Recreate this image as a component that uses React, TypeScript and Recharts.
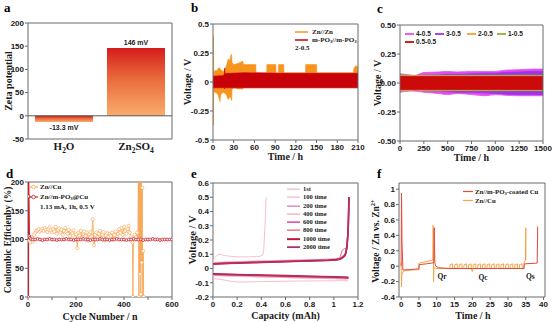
import React from 'react';
import {
  BarChart, Bar, ComposedChart, Area, Line, XAxis, YAxis, ReferenceArea, ReferenceLine,
  ReferenceDot, LabelList, Legend,
} from 'recharts';

const SERIF = '"Liberation Serif", "Times New Roman", serif';
const SANS = '"Liberation Sans", Arial, sans-serif';
const FRAME = '#6b6b6b';
const INK = '#1a1a1a';

// ---------- a: zeta potential ----------
const zetaCategories = ['H_2O', 'Zn_2SO_4'];
const zetaValues = [-13.3, 146];
const zetaLabels = ['-13.3 mV', '146 mV'];
const zetaTicks = [-50, 0, 50, 100, 150, 200];

// ---------- b: symmetric cells (envelopes of the voltage oscillation) ----------
const bSeriesNames = ['Zn//Zn', 'm-PO_3//m-PO_3'];
const bZnTime = [0, 0.4, 0.6, 0.9, 1.3, 3, 6, 8, 10, 11, 12, 15, 18, 20, 22, 24, 25.5, 27, 27.6, 28.5, 30, 36, 40, 43, 44, 62, 62.3, 77.8, 78, 91, 91.3, 94.7, 95, 102.5, 102.8, 134, 134.3, 150, 150.3, 203.5, 204, 207, 210];
const bZnHigh = [0.05, 0.1, 0.4, 0.1, 0.08, 0.1, 0.1, 0.12, 0.12, 0.11, 0.1, 0.09, 0.12, 0.15, 0.2, 0.18, 0.22, 0.24, 0.17, 0.16, 0.15, 0.16, 0.17, 0.18, 0.15, 0.15, 0.08, 0.08, 0.15, 0.15, 0.08, 0.08, 0.15, 0.15, 0.08, 0.08, 0.15, 0.15, 0.08, 0.08, 0.12, 0.14, 0.13];
const bZnLow = [-0.05, -0.1, -0.37, -0.1, -0.08, -0.09, -0.1, -0.12, -0.17, -0.12, -0.1, -0.09, -0.1, -0.12, -0.15, -0.13, -0.13, -0.16, -0.06, -0.06, -0.05, -0.06, -0.06, -0.06, -0.05, -0.05, -0.05, -0.05, -0.05, -0.05, -0.05, -0.05, -0.05, -0.05, -0.05, -0.05, -0.05, -0.05, -0.05, -0.05, -0.05, -0.05, -0.05];
const bPoTime = [0, 15, 16.5, 17, 17.5, 20, 25, 45, 100, 150, 210];
const bPoHigh = [0.05, 0.055, 0.07, 0.12, 0.07, 0.075, 0.075, 0.08, 0.075, 0.075, 0.075];
const bPoLow = [-0.05, -0.05, -0.05, -0.06, -0.05, -0.05, -0.05, -0.05, -0.05, -0.05, -0.05];
const bXTicks = [0, 30, 60, 90, 120, 150, 180, 210];
const bYTicks = [-0.5, -0.25, 0, 0.25, 0.5];

// ---------- c: different current densities (envelopes) ----------
const cNames = ['4-0.5', '3-0.5', '2-0.5', '1-0.5', '0.5-0.5'];
const cTime = [0, 100, 150, 250, 400, 500, 600, 750, 900, 1000, 1100, 1250, 1400, 1500];
const c4High = [0.08, 0.07, 0.065, 0.09, 0.095, 0.1, 0.095, 0.1, 0.1, 0.1, 0.11, 0.115, 0.12, 0.12];
const c4Low = [-0.08, -0.07, -0.07, -0.08, -0.09, -0.1, -0.09, -0.1, -0.11, -0.1, -0.105, -0.11, -0.11, -0.11];
const c3High = [0.065, 0.06, 0.06, 0.065, 0.07, 0.075, 0.075, 0.08, 0.085, 0.085, 0.09, 0.095, 0.1, 0.1];
const c3Low = [-0.065, -0.06, -0.06, -0.065, -0.07, -0.075, -0.08, -0.08, -0.085, -0.09, -0.095, -0.1, -0.1, -0.1];
const c2High = [0.068, 0.066, 0.065, 0.066, 0.067, 0.066, 0.066, 0.066, 0.066, 0.066, 0.066, 0.066, 0.066, 0.066];
const c2Low = [-0.068, -0.066, -0.06, -0.066, -0.067, -0.066, -0.066, -0.066, -0.066, -0.066, -0.066, -0.066, -0.066, -0.066];
const c1High = [0.064, 0.062, 0.06, 0.062, 0.063, 0.062, 0.062, 0.062, 0.062, 0.062, 0.062, 0.062, 0.062, 0.062];
const c1Low = [-0.064, -0.06, -0.05, -0.062, -0.063, -0.062, -0.062, -0.062, -0.062, -0.062, -0.062, -0.062, -0.062, -0.062];
const c05High = [0.055, 0.055, 0.055, 0.055, 0.055, 0.055, 0.055, 0.055, 0.055, 0.055, 0.055, 0.055, 0.055, 0.055];
const c05Low = [-0.055, -0.055, -0.055, -0.055, -0.055, -0.055, -0.055, -0.055, -0.055, -0.055, -0.055, -0.055, -0.055, -0.055];
const cXTicks = [0, 250, 500, 750, 1000, 1250, 1500];
const cYTicks = [-0.5, -0.25, 0, 0.25, 0.5];

// ---------- d: coulombic efficiency ----------
const dNames = ['Zn//Cu', 'Zn//m-PO_3@Cu'];
const dNote = '1.13 mA, 1h, 0.5 V';
const dCycleZnCu = [5, 10, 15, 20, 25, 30, 35, 40, 45, 50, 55, 60, 65, 70, 75, 80, 85, 90, 95, 100, 105, 110, 115, 120, 125, 130, 135, 140, 145, 150, 155, 160, 165, 170, 175, 180, 185, 190, 195, 200, 205, 210, 215, 220, 225, 230, 235, 240, 245, 250, 255, 260, 265, 270, 275, 280, 285, 290, 295, 300, 305, 310, 315, 320, 325, 330, 335, 340, 345, 350, 355, 360, 365, 370, 375, 380, 385, 390, 395, 400, 405, 410, 415, 420, 425, 430, 435, 437, 440, 445, 450, 455, 458, 460, 462, 464, 466, 468, 470, 472, 474, 476, 478, 480, 482];
const dCeZnCu = [98, 95, 104, 96, 108, 112, 115, 116, 118, 114, 117, 119, 115, 120, 117, 113, 118, 121, 116, 112, 118, 114, 122, 110, 116, 119, 112, 117, 108, 115, 120, 113, 110, 117, 106, 114, 111, 116, 104, 109, 85, 112, 107, 115, 103, 110, 114, 106, 112, 98, 109, 113, 105, 135, 90, 108, 112, 104, 110, 115, 102, 109, 113, 98, 107, 111, 104, 110, 106, 112, 100, 108, 114, 105, 110, 118, 112, 120, 108, 122, 115, 110, 118, 124, 112, 105, 95, 0, 100, 108, 104, 112, 100, 230, 0, 230, 40, 210, 5, 230, 60, 190, 0, 80, 0];
const dCycleMPO = [1, 2, 3, 5, 8, 12, 20, 30, 40, 50, 60, 70, 80, 90, 100, 110, 120, 130, 140, 150, 160, 170, 180, 190, 200, 210, 220, 230, 240, 250, 260, 270, 280, 290, 300, 310, 320, 330, 340, 350, 360, 370, 380, 390, 400, 410, 420, 430, 440, 450, 460, 470, 480, 490, 500, 510, 520, 530, 540, 550, 560, 570, 580, 590, 600];
const dCeMPO = [0, 210, 175, 106, 103, 101, 100, 100, 101, 100, 99, 100, 100, 101, 100, 100, 99, 100, 100, 100, 101, 100, 100, 99, 100, 100, 100, 101, 100, 100, 99, 100, 100, 100, 101, 100, 100, 100, 99, 100, 100, 101, 100, 100, 100, 99, 100, 100, 101, 100, 100, 100, 99, 100, 100, 100, 101, 100, 100, 99, 100, 100, 100, 100, 100];
const dXTicks = [0, 100, 200, 300, 400, 500, 600];
const dYTicks = [0, 50, 100, 150, 200];

// ---------- e: voltage profiles ----------
const eNames = ['1st', '100 time', '200 time', '400 time', '600 time', '800 time', '1000 time', '2000 time'];
const eCap1stCharge = [0, 0.01, 0.03, 0.05, 0.07, 0.1, 0.15, 0.2, 0.3, 0.36, 0.39, 0.41, 0.42, 0.43, 0.44];
const eV1stCharge = [0.045, 0.07, 0.09, 0.1, 0.098, 0.09, 0.085, 0.082, 0.082, 0.083, 0.086, 0.095, 0.13, 0.3, 0.5];
const eCap1stDis = [0, 0.05, 0.1, 0.15, 0.2, 0.4, 0.7, 1.0, 1.12];
const eV1stDis = [-0.07, -0.075, -0.082, -0.09, -0.095, -0.092, -0.088, -0.086, -0.085];
const eCapCharge = [0, 0.1, 0.2, 0.4, 0.6, 0.8, 0.95, 1.02, 1.05, 1.07, 1.09, 1.1, 1.11, 1.12, 1.125];
const eV100Charge = [0.04, 0.044, 0.047, 0.052, 0.056, 0.06, 0.064, 0.068, 0.072, 0.085, 0.1, 0.12, 0.17, 0.32, 0.5];
const eV200Charge = [0.035, 0.039, 0.042, 0.047, 0.052, 0.057, 0.061, 0.065, 0.069, 0.078, 0.093, 0.113, 0.163, 0.303, 0.5];
const eV400Charge = [0.042, 0.046, 0.049, 0.054, 0.058, 0.062, 0.066, 0.07, 0.074, 0.087, 0.102, 0.122, 0.172, 0.32, 0.5];
const eV600Charge = [0.034, 0.038, 0.041, 0.046, 0.051, 0.056, 0.06, 0.064, 0.068, 0.078, 0.093, 0.112, 0.162, 0.302, 0.5];
const eV800Charge = [0.036, 0.04, 0.043, 0.048, 0.053, 0.058, 0.062, 0.066, 0.075, 0.13, 0.14, 0.14, 0.17, 0.31, 0.5];
const eV1000Charge = [0.032, 0.036, 0.039, 0.044, 0.049, 0.054, 0.058, 0.062, 0.066, 0.075, 0.09, 0.11, 0.16, 0.3, 0.5];
const eV2000Charge = [0.03, 0.034, 0.037, 0.042, 0.047, 0.052, 0.056, 0.06, 0.064, 0.073, 0.088, 0.108, 0.158, 0.298, 0.5];
const eCapDis = [0, 0.2, 0.4, 0.6, 0.8, 1.0, 1.12];
const eV100Dis = [-0.05, -0.055, -0.06, -0.064, -0.068, -0.072, -0.075];
const eV200Dis = [-0.042, -0.047, -0.052, -0.056, -0.06, -0.064, -0.067];
const eV400Dis = [-0.048, -0.053, -0.058, -0.063, -0.067, -0.07, -0.073];
const eV600Dis = [-0.04, -0.045, -0.05, -0.054, -0.058, -0.062, -0.066];
const eV800Dis = [-0.043, -0.048, -0.053, -0.058, -0.062, -0.066, -0.07];
const eV1000Dis = [-0.038, -0.042, -0.046, -0.05, -0.054, -0.058, -0.062];
const eV2000Dis = [-0.04, -0.044, -0.048, -0.052, -0.056, -0.06, -0.064];
const eXTicks = [0, 0.2, 0.4, 0.6, 0.8, 1, 1.2];
const eYTicks = [-0.2, -0.1, 0, 0.1, 0.2, 0.3, 0.4, 0.5, 0.6];

// ---------- f: Qr / Qc / Qs protocol ----------
const fNames = ['Zn//m-PO_3-coated Cu', 'Zn//Cu'];
const fTimeCoated = [0, 0.1, 0.25, 0.5, 2, 5, 5.05, 7, 9.2, 9.3, 9.45, 9.7, 10.5, 13.5, 20, 27, 34.5, 34.6, 38.2, 38.35, 38.45];
const fVCoated = [0, 0.95, 0.3, -0.05, -0.045, -0.035, 0.02, 0.03, 0.045, 0.5, 0.05, 0.0, -0.02, -0.03, -0.03, -0.03, -0.03, 0.03, 0.04, 0.51, 0.51];
const fTimeCu = [0, 0.1, 0.2, 0.4, 1, 3, 5, 5.05, 7, 8.9, 9.0, 9.1, 9.2, 10, 13.7, 13.75, 14.45, 14.5, 15.0, 15.05, 15.75, 15.8, 16.3, 16.35, 17.05, 17.1, 17.6, 17.65, 18.35, 18.4, 18.9, 18.95, 19.65, 19.7, 20.0, 20.2, 20.25, 20.95, 21.0, 21.5, 21.55, 22.25, 22.3, 22.8, 22.85, 23.55, 23.6, 24.1, 24.15, 24.85, 24.9, 25.4, 25.45, 26.15, 26.2, 26.7, 26.75, 27.45, 27.5, 28.0, 28.05, 28.75, 28.8, 29.3, 29.35, 30.05, 30.1, 30.6, 30.65, 31.35, 31.4, 31.9, 31.95, 32.65, 32.7, 33.2, 33.25, 33.95, 34.0, 34.5, 34.55, 34.9, 35.0, 35.05];
const fVCu = [0.05, -0.27, -0.12, -0.08, -0.06, -0.05, -0.045, 0.04, 0.06, 0.08, 0.53, -0.2, -0.02, -0.03, -0.03, 0.02, 0.03, -0.03, -0.03, 0.02, 0.03, -0.03, -0.03, 0.02, 0.03, -0.03, -0.03, 0.02, 0.03, -0.03, -0.03, 0.02, 0.03, -0.03, -0.07, -0.03, 0.02, 0.03, -0.03, -0.03, 0.02, 0.03, -0.03, -0.03, 0.02, 0.03, -0.03, -0.03, 0.02, 0.03, -0.03, -0.03, 0.02, 0.03, -0.03, -0.03, 0.02, 0.03, -0.03, -0.03, 0.02, 0.03, -0.03, -0.03, 0.02, 0.03, -0.03, -0.03, 0.02, 0.03, -0.03, -0.03, 0.02, 0.03, -0.03, -0.03, 0.02, 0.03, -0.03, -0.03, 0.05, 0.08, 0.5, 0.08];
const fNotes = ['Qr', 'Qc', 'Qs'];
const fNoteTime = [11.5, 23, 36.3];
const fNoteV = [-0.14, -0.15, -0.14];
const fXTicks = [0, 5, 10, 15, 20, 25, 30, 35, 40];
const fYTicks = [-0.4, -0.2, 0, 0.2, 0.4, 0.6, 0.8, 1];

// ---------- helpers ----------
const tickFont = { fontFamily: SANS, fontWeight: 700, fontSize: 8, fill: INK };
const fmt1 = (v: number) => String(+Number(v).toFixed(2));

function Rich({ s, size }: { s: string; size: number }) {
  const parts = s.split(/(_[0-9]|\^[0-9+]+)/).filter((p) => p !== '');
  let shift = 0;
  const out: any[] = [];
  parts.forEach((p, i) => {
    if (p[0] === '_') {
      out.push(<tspan key={i} dy={size * 0.3 - shift} fontSize={size * 0.68}>{p.slice(1)}</tspan>);
      shift = size * 0.3;
    } else if (p[0] === '^') {
      out.push(<tspan key={i} dy={-size * 0.38 - shift} fontSize={size * 0.68}>{p.slice(1)}</tspan>);
      shift = -size * 0.38;
    } else {
      out.push(<tspan key={i} dy={-shift}>{p}</tspan>);
      shift = 0;
    }
  });
  return <>{out}</>;
}

function RichHtml({ s }: { s: string }) {
  const parts = s.split(/(_[0-9]|\^[0-9+]+)/).filter((p) => p !== '');
  return (
    <>
      {parts.map((p, i) =>
        p[0] === '_' ? (
          <sub key={i} style={{ fontSize: '70%', lineHeight: 0, verticalAlign: '-0.25em' }}>{p.slice(1)}</sub>
        ) : p[0] === '^' ? (
          <sup key={i} style={{ fontSize: '70%', lineHeight: 0 }}>{p.slice(1)}</sup>
        ) : (
          <span key={i}>{p}</span>
        ),
      )}
    </>
  );
}

function YTitle({ s, x, cy, size = 10 }: any) {
  return (
    <text transform={`translate(${x},${cy}) rotate(-90)`} textAnchor="middle" dominantBaseline="central"
      fontFamily={SERIF} fontWeight={700} fontSize={size} fill={INK}>
      <Rich s={s} size={size} />
    </text>
  );
}

function XTitle({ s, x, y, size = 10 }: any) {
  return (
    <text x={x} y={y} textAnchor="middle" fontFamily={SERIF} fontWeight={700} fontSize={size} fill={INK}>
      <Rich s={s} size={size} />
    </text>
  );
}

function LegItem({ color, label, lineLen = 12, gap = 3, sw = 1.5, marker = false, w, h = 8 }: any) {
  return (
    <div style={{ display: 'flex', alignItems: 'center', height: h, width: w, whiteSpace: 'nowrap' }}>
      <svg width={lineLen} height={h} style={{ flex: 'none', display: 'block' }}>
        <line x1={0} x2={lineLen} y1={h / 2} y2={h / 2} stroke={color} strokeWidth={sw} />
        {marker && <circle cx={lineLen / 2} cy={h / 2} r={1.8} fill="#fff" stroke={color} strokeWidth={0.8} />}
      </svg>
      <span style={{ marginLeft: gap, lineHeight: `${h}px` }}>
        <RichHtml s={label} />
      </span>
    </div>
  );
}

const legendBase = { layout: 'vertical' as const, align: 'center' as const, verticalAlign: 'middle' as const };

// ---------- panels ----------
function CatTick({ x, y, payload }: any) {
  return (
    <text x={x} y={y + 11} textAnchor="middle" fontFamily={SERIF} fontWeight={700} fontSize={11} fill={INK}>
      <Rich s={payload.value} size={11} />
    </text>
  );
}

function ZetaLabel({ x, y, width, height, value }: any) {
  const top = Math.min(y, y + height);
  const bot = Math.max(y, y + height);
  const idx = zetaValues.indexOf(value);
  const neg = value < 0;
  return (
    <text x={x + width / 2} y={neg ? bot + 8 : top - 3.5} textAnchor="middle" fontFamily={SANS} fontWeight={700} fontSize={7} fill={INK}>
      {zetaLabels[idx]}
    </text>
  );
}

function PanelA() {
  const data = zetaCategories.map((c, i) => ({ cat: c, zeta: zetaValues[i] }));
  return (
    <BarChart width={180} height={162} data={data} margin={{ top: 23, right: 8, left: 0, bottom: 0 }}>
      <defs>
        <linearGradient id="zetaGrad" x1="0" y1="0" x2="0" y2="1">
          <stop offset="0" stopColor="#d51c1c" />
          <stop offset="0.45" stopColor="#ea6a3c" />
          <stop offset="1" stopColor="#f8ae6c" />
        </linearGradient>
      </defs>
      <XAxis dataKey="cat" height={23} tickLine={false} axisLine={false} tickSize={0} tickMargin={0} tick={<CatTick />} interval={0} />
      <YAxis width={28} domain={[-50, 200]} ticks={zetaTicks} interval={0} tick={tickFont} tickSize={3} tickMargin={1}
        axisLine={false} tickLine={{ stroke: FRAME }}
        label={() => <YTitle s="Zeta potential" x={7.5} cy={81} size={10} />} />
      <Bar dataKey="zeta" barSize={58} fill="url(#zetaGrad)" isAnimationActive={false}>
        <LabelList dataKey="zeta" content={(p: any) => <ZetaLabel {...p} />} />
      </Bar>
      <ReferenceLine y={0} stroke="#555" strokeWidth={1} />
      <ReferenceArea y1={-50} y2={200} fill="none" fillOpacity={0} stroke={FRAME} strokeWidth={1} />
    </BarChart>
  );
}

function PanelB() {
  const zn = bZnTime.map((t, i) => ({ t, r: [bZnLow[i], bZnHigh[i]] }));
  const po = bPoTime.map((t, i) => ({ t, r: [bPoLow[i], bPoHigh[i]] }));
  return (
    <ComposedChart width={185} height={162} margin={{ top: 24, right: 7, left: 0, bottom: 0 }}>
      <XAxis type="number" dataKey="t" domain={[0, 210]} ticks={bXTicks} interval={0} height={22} tick={tickFont}
        tickSize={3} tickMargin={1} axisLine={false} tickLine={{ stroke: FRAME }} allowDataOverflow
        label={() => <XTitle s="Time / h" x={105.5} y={160} />} />
      <YAxis type="number" domain={[-0.5, 0.5]} ticks={bYTicks} interval={0} width={33} tick={tickFont}
        tickSize={3} tickMargin={1} axisLine={false} tickLine={{ stroke: FRAME }} tickFormatter={fmt1} allowDataOverflow
        label={() => <YTitle s="Voltage / V" x={7} cy={82} />} />
      <Area data={zn} dataKey="r" name={bSeriesNames[0]} type="linear" stroke="#f7941d" strokeWidth={0.6} fill="#f7941d"
        fillOpacity={1} isAnimationActive={false} dot={false} activeDot={false} />
      <Area data={po} dataKey="r" name={bSeriesNames[1]} type="linear" stroke="#c8000a" strokeWidth={0.6} fill="#c8000a"
        fillOpacity={1} isAnimationActive={false} dot={false} activeDot={false} />
      <ReferenceArea y1={-0.5} y2={0.5} fill="none" fillOpacity={0} stroke={FRAME} strokeWidth={1} />
      <Legend {...legendBase} wrapperStyle={{ left: 115, top: 28, width: 70 }}
        content={() => (
          <div style={{ fontFamily: SERIF, fontWeight: 700, fontSize: 7, color: INK }}>
            <LegItem color="#f7941d" label={bSeriesNames[0]} lineLen={13} gap={4} />
            <LegItem color="#c8000a" label={bSeriesNames[1]} lineLen={13} gap={4} />
            <div style={{ height: 8, lineHeight: '8px' }}>2-0.5</div>
          </div>
        )} />
    </ComposedChart>
  );
}

const cColors = ['#e44cf2', '#9b35e6', '#f5a233', '#8fb23c', '#cc0a0a'];

function PanelC() {
  const highs = [c4High, c3High, c2High, c1High, c05High];
  const lows = [c4Low, c3Low, c2Low, c1Low, c05Low];
  return (
    <ComposedChart width={189} height={162} margin={{ top: 25, right: 11, left: 0, bottom: 0 }}>
      <XAxis type="number" dataKey="t" domain={[0, 1500]} ticks={cXTicks} interval={0} height={21} tick={tickFont}
        tickSize={3} tickMargin={1} axisLine={false} tickLine={{ stroke: FRAME }}
        label={() => <XTitle s="Time / h" x={106.5} y={161} />} />
      <YAxis type="number" domain={[-0.5, 0.5]} ticks={cYTicks} interval={0} width={35} tick={tickFont}
        tickSize={3} tickMargin={1} axisLine={false} tickLine={{ stroke: FRAME }} tickFormatter={(v: number) => v.toFixed(2)}
        label={() => <YTitle s="Voltage / V" x={12} cy={83} />} />
      {cNames.map((n, k) => (
        <Area key={n} data={cTime.map((t, i) => ({ t, r: [lows[k][i], highs[k][i]] }))} dataKey="r" name={n}
          type="monotone" stroke={cColors[k]} strokeWidth={0.8} fill={cColors[k]} fillOpacity={1}
          isAnimationActive={false} dot={false} activeDot={false} />
      ))}
      <ReferenceArea y1={-0.5} y2={0.5} fill="none" fillOpacity={0} stroke={FRAME} strokeWidth={1} />
      <Legend {...legendBase} wrapperStyle={{ left: 40, top: 30, width: 140 }}
        content={() => (
          <div style={{ fontFamily: SANS, fontWeight: 700, fontSize: 6.5, color: INK }}>
            <div style={{ display: 'flex' }}>
              {cNames.slice(0, 4).map((n, i) => (
                <LegItem key={n} color={cColors[i]} label={n} lineLen={9} gap={2} sw={1.8} w={i === 1 ? 32 : 30} />
              ))}
            </div>
            <LegItem color={cColors[4]} label={cNames[4]} lineLen={9} gap={2} sw={1.8} />
          </div>
        )} />
    </ComposedChart>
  );
}

function PanelD() {
  const cu = dCycleZnCu.map((n, i) => ({ n, ce: dCeZnCu[i] }));
  const mpo = dCycleMPO.map((n, i) => ({ n, ce: dCeMPO[i] }));
  return (
    <ComposedChart width={180} height={162} margin={{ top: 22, right: 8, left: 0, bottom: 0 }}>
      <XAxis type="number" dataKey="n" domain={[0, 600]} ticks={dXTicks} interval={0} height={25} tick={tickFont}
        tickSize={3} tickMargin={1} axisLine={false} tickLine={{ stroke: FRAME }} allowDataOverflow
        tickFormatter={(v: number) => (v % 200 === 0 ? String(v) : '')}
        label={() => <XTitle s="Cycle Number / n" x={100} y={159.5} />} />
      <YAxis type="number" domain={[0, 200]} ticks={dYTicks} interval={0} width={28} tick={tickFont}
        tickSize={3} tickMargin={1} axisLine={false} tickLine={{ stroke: FRAME }} allowDataOverflow
        label={() => <YTitle s="Coulombic Efficienby (%)" x={8} cy={80} size={9.5} />} />
      <Line data={cu} dataKey="ce" name={dNames[0]} type="linear" stroke="#f7a24c" strokeWidth={0.8}
        dot={{ r: 1.6, fill: '#fff', stroke: '#f7a24c', strokeWidth: 0.6 }} activeDot={false} isAnimationActive={false} />
      <Line data={mpo} dataKey="ce" name={dNames[1]} type="linear" stroke="#cc1f2a" strokeWidth={1.6}
        dot={{ r: 1.4, fill: '#fff', stroke: '#cc1f2a', strokeWidth: 0.8 }} activeDot={false} isAnimationActive={false} />
      <ReferenceArea y1={0} y2={200} fill="none" fillOpacity={0} stroke={FRAME} strokeWidth={1} />
      <Legend {...legendBase} wrapperStyle={{ left: 29, top: 22, width: 100 }}
        content={() => (
          <div style={{ fontFamily: SERIF, fontWeight: 700, fontSize: 7, color: INK }}>
            <LegItem color="#f7a24c" label={dNames[0]} lineLen={9} gap={2} sw={1} marker h={10} />
            <LegItem color="#cc1f2a" label={dNames[1]} lineLen={9} gap={2} sw={1.2} marker h={10} />
            <div style={{ height: 10, lineHeight: '10px', paddingLeft: 11 }}>{dNote}</div>
          </div>
        )} />
    </ComposedChart>
  );
}

const eColors = ['#f6bfd2', '#f4c2c6', '#e186b6', '#f1b4bf', '#d9649e', '#e9727c', '#c4163e', '#b0306c'];
const eWidths = [1, 1, 1, 1, 1.4, 1, 1.6, 1.4];

function PanelE() {
  const ch = (cap: number[], v: number[]) => cap.map((c, i) => ({ c, v: v[i] }));
  const charges = [
    ch(eCap1stCharge, eV1stCharge), ch(eCapCharge, eV100Charge), ch(eCapCharge, eV200Charge), ch(eCapCharge, eV400Charge),
    ch(eCapCharge, eV600Charge), ch(eCapCharge, eV800Charge), ch(eCapCharge, eV1000Charge), ch(eCapCharge, eV2000Charge),
  ];
  const dis = [
    ch(eCap1stDis, eV1stDis), ch(eCapDis, eV100Dis), ch(eCapDis, eV200Dis), ch(eCapDis, eV400Dis),
    ch(eCapDis, eV600Dis), ch(eCapDis, eV800Dis), ch(eCapDis, eV1000Dis), ch(eCapDis, eV2000Dis),
  ];
  return (
    <ComposedChart width={185} height={162} margin={{ top: 23, right: 7, left: 0, bottom: 0 }}>
      <XAxis type="number" dataKey="c" domain={[0, 1.2]} ticks={eXTicks} interval={0} height={25} tick={tickFont}
        tickSize={3} tickMargin={1} axisLine={false} tickLine={{ stroke: FRAME }} tickFormatter={fmt1}
        label={() => <XTitle s="Capacity (mAh)" x={105.5} y={159} size={10} />} />
      <YAxis type="number" domain={[-0.2, 0.6]} ticks={eYTicks} interval={0} width={33} tick={tickFont}
        tickSize={3} tickMargin={1} axisLine={false} tickLine={{ stroke: FRAME }} tickFormatter={fmt1}
        label={() => <YTitle s="Voltage / V" x={12} cy={80} size={10.5} />} />
      {eNames.map((n, k) => (
        <Line key={n + 'c'} data={charges[k]} dataKey="v" name={n} type="linear" stroke={eColors[k]} strokeWidth={eWidths[k]}
          dot={false} activeDot={false} isAnimationActive={false} />
      ))}
      {eNames.map((n, k) => (
        <Line key={n + 'd'} data={dis[k]} dataKey="v" name={n} type="linear" stroke={eColors[k]} strokeWidth={eWidths[k]}
          dot={false} activeDot={false} isAnimationActive={false} legendType="none" />
      ))}
      <ReferenceArea y1={-0.2} y2={0.6} fill="none" fillOpacity={0} stroke={FRAME} strokeWidth={1} />
      <Legend {...legendBase} wrapperStyle={{ left: 107, top: 25, width: 70 }}
        content={() => (
          <div style={{ fontFamily: SERIF, fontWeight: 700, fontSize: 6.5, color: INK }}>
            {eNames.map((n, i) => (
              <LegItem key={n} color={eColors[i]} label={n} lineLen={13} gap={3} sw={eWidths[i] + 0.4} h={8.3} />
            ))}
          </div>
        )} />
    </ComposedChart>
  );
}

function PanelF() {
  const coated = fTimeCoated.map((t, i) => ({ t, v: fVCoated[i] }));
  const cu = fTimeCu.map((t, i) => ({ t, v: fVCu[i] }));
  return (
    <ComposedChart width={189} height={162} margin={{ top: 23, right: 9, left: 0, bottom: 0 }}>
      <XAxis type="number" dataKey="t" domain={[-0.6, 40.4]} ticks={fXTicks} interval={0} height={25} tick={tickFont}
        tickSize={3} tickMargin={1} axisLine={false} tickLine={{ stroke: FRAME }} allowDataOverflow
        label={() => <XTitle s="Time / h" x={108} y={159} />} />
      <YAxis type="number" domain={[-0.4, 1.08]} ticks={fYTicks} interval={0} width={34} tick={tickFont}
        tickSize={3} tickMargin={1} axisLine={false} tickLine={{ stroke: FRAME }} tickFormatter={fmt1} allowDataOverflow
        label={() => <YTitle s="Voltage / Zn vs. Zn^2+" x={11} cy={81} size={9.5} />} />
      <Line data={cu} dataKey="v" name={fNames[1]} type="linear" stroke="#f6a446" strokeWidth={1}
        dot={false} activeDot={false} isAnimationActive={false} />
      <Line data={coated} dataKey="v" name={fNames[0]} type="linear" stroke="#e4483a" strokeWidth={1}
        dot={false} activeDot={false} isAnimationActive={false} />
      {fNotes.map((s, i) => (
        <ReferenceDot key={s} x={fNoteTime[i]} y={fNoteV[i]} r={0} fill="none" stroke="none"
          label={(p: any) => {
            const vb = p && p.viewBox ? p.viewBox : { x: 0, y: 0, width: 0, height: 0 };
            return (
              <text x={vb.x + (vb.width || 0) / 2} y={vb.y + (vb.height || 0) / 2 + 2.5} textAnchor="middle"
                fontFamily={SERIF} fontWeight={700} fontSize={7.5} fill={INK}>{s}</text>
            );
          }} />
      ))}
      <ReferenceArea y1={-0.4} y2={1.08} fill="none" fillOpacity={0} stroke={FRAME} strokeWidth={1} />
      <Legend {...legendBase} wrapperStyle={{ left: 98, top: 27, width: 90 }}
        content={() => (
          <div style={{ fontFamily: SERIF, fontWeight: 700, fontSize: 6.8, color: INK }}>
            <LegItem color="#e4483a" label={fNames[0]} lineLen={10} gap={2} sw={1.2} h={9} />
            <LegItem color="#f6a446" label={fNames[1]} lineLen={10} gap={2} sw={1.2} h={9} />
          </div>
        )} />
    </ComposedChart>
  );
}

const letterStyle: any = {
  position: 'absolute', fontFamily: SERIF, fontWeight: 700, fontSize: 13, lineHeight: '13px', color: '#000',
};

export default function App() {
  return (
    <div style={{ position: 'absolute', left: 0, top: 0, width: 554, height: 322, background: '#fff', overflow: 'hidden' }}>
      <div style={{ position: 'absolute', left: 0, top: 0 }}><PanelA /></div>
      <div style={{ position: 'absolute', left: 180, top: 0 }}><PanelB /></div>
      <div style={{ position: 'absolute', left: 365, top: 0 }}><PanelC /></div>
      <div style={{ position: 'absolute', left: 0, top: 160 }}><PanelD /></div>
      <div style={{ position: 'absolute', left: 180, top: 160 }}><PanelE /></div>
      <div style={{ position: 'absolute', left: 365, top: 160 }}><PanelF /></div>
      <div style={{ ...letterStyle, left: 4, top: 1 }}>a</div>
      <div style={{ ...letterStyle, left: 191, top: 1 }}>b</div>
      <div style={{ ...letterStyle, left: 377, top: 2 }}>c</div>
      <div style={{ ...letterStyle, left: 6, top: 167 }}>d</div>
      <div style={{ ...letterStyle, left: 191, top: 167 }}>e</div>
      <div style={{ ...letterStyle, left: 377, top: 167 }}>f</div>
    </div>
  );
}
